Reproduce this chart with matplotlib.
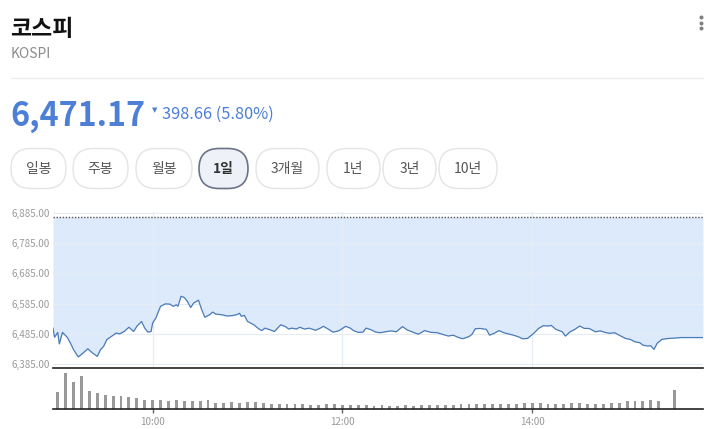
import numpy as np
import matplotlib
matplotlib.use("Agg")
import matplotlib.pyplot as plt
from matplotlib.patches import FancyBboxPatch

plt.rcParams['font.family'] = ['Noto Sans CJK KR', 'DejaVu Sans']

# ---------------- data ----------------
title = "코스피"
subtitle = "KOSPI"
last_price = 6471.17
change = 398.66
change_pct = 5.80
prev_close = 6869.83
periods = ["일봉", "주봉", "월봉", "1일", "3개월", "1년", "3년", "10년"]
selected_period = "1일"

# intraday price: minutes after 09:00 and index level
price_min = [-3, -2, 0, 1, 3, 6, 8, 10, 13, 16, 19, 22, 25, 27, 29, 31, 34, 37, 39, 42,
             45, 48, 50, 53, 55, 57, 59, 60, 62, 65, 68, 71, 73, 75, 76, 78, 80, 82, 84, 86,
             89, 91, 93, 96, 98, 100, 104, 107, 110, 113, 115, 116, 118, 120, 124, 127, 129, 131, 134, 137,
             139, 141, 144, 146, 148, 151, 153, 156, 159, 163, 166, 168, 171, 174, 176, 178, 182, 185, 187, 190,
             193, 195, 198, 201, 204, 207, 211, 214, 218, 221, 224, 228, 232, 236, 240, 243, 247, 250, 253, 256,
             260, 262, 264, 267, 271, 273, 276, 279, 282, 285, 288, 291, 294, 297, 301, 304, 307, 310, 312, 315,
             319, 321, 324, 327, 330, 333, 336, 340, 343, 346, 349, 352, 355, 359, 362, 365, 368, 370, 373, 375,
             377, 379, 382, 386, 390, 394, 408]
price_val = [6504, 6474, 6490, 6452, 6490, 6474, 6455, 6433, 6409, 6422, 6436, 6422, 6411, 6433, 6444, 6466, 6477, 6488, 6485, 6493,
             6507, 6493, 6510, 6526, 6504, 6491, 6493, 6521, 6537, 6576, 6584, 6583, 6576, 6581, 6576, 6609, 6605, 6592, 6572, 6587,
             6596, 6565, 6540, 6548, 6557, 6550, 6548, 6544, 6545, 6548, 6553, 6543, 6546, 6526, 6515, 6502, 6496, 6504, 6499, 6493,
             6504, 6515, 6509, 6501, 6504, 6501, 6507, 6501, 6504, 6497, 6504, 6510, 6501, 6491, 6493, 6496, 6510, 6504, 6496, 6490,
             6491, 6504, 6499, 6491, 6489, 6492, 6495, 6492, 6509, 6498, 6492, 6484, 6496, 6490, 6489, 6484, 6478, 6481, 6474, 6469,
             6476, 6484, 6502, 6503, 6500, 6481, 6487, 6496, 6489, 6485, 6481, 6476, 6469, 6470, 6487, 6503, 6512, 6511, 6513, 6500,
             6492, 6478, 6492, 6500, 6511, 6503, 6503, 6492, 6495, 6490, 6487, 6489, 6481, 6470, 6467, 6459, 6456, 6448, 6445, 6446,
             6434, 6454, 6467, 6470, 6471.17, 6473, 6473]

# 5-minute volume bars (09:00 .. 15:20) and closing auction (15:30), relative units
volume = [167, 363, 273, 330, 180, 163, 143, 133, 130, 117, 113, 93, 93, 93, 83, 90, 80, 80, 80, 93,
          63, 63, 70, 63, 70, 70, 60, 53, 53, 53, 47, 47, 43, 43, 47, 53, 40, 43, 43, 40,
          33, 43, 30, 33, 40, 33, 40, 40, 43, 43, 43, 50, 47, 53, 53, 50, 50, 47, 50, 57,
          60, 60, 47, 47, 53, 60, 57, 53, 53, 53, 60, 60, 77, 77, 77, 87, 80, 190]
volume_min = list(range(0, 381, 5)) + [390]

yticks = [6385, 6485, 6585, 6685, 6785, 6885]
xtick_labels = ["10:00", "12:00", "14:00"]

# ---------------- figure ----------------
W, H = 713, 429
fig = plt.figure(figsize=(W / 100, H / 100), dpi=100)
fig.patch.set_facecolor("white")


def px_rect(x0, y0, x1, y1):
    return [x0 / W, (H - y1) / H, (x1 - x0) / W, (y1 - y0) / H]


ov = fig.add_axes([0, 0, 1, 1])
ov.set_xlim(0, W)
ov.set_ylim(H, 0)
ov.axis("off")

blue = "#4c7fd5"
ov.text(10, 36.5, title, fontsize=16.5, fontweight="bold", color="#111111", va="baseline", ha="left")
ov.text(11, 57.5, subtitle, fontsize=10, color="#8c8c8c", va="baseline", ha="left")
ov.plot([11, 703], [77.5, 77.5], color="#ececec", lw=1)
ov.scatter([701, 701, 701], [17, 22.5, 28], s=3.5, color="#808080")

ov.text(10, 125.5, f"{last_price:,.2f}", fontsize=23.3, fontweight="bold", color=blue, va="baseline", ha="left")
ov.text(155, 110, "▼", fontsize=5, color=blue, va="center", ha="center", family="DejaVu Sans")
ov.text(162.5, 119, f"{change:,.2f} ({change_pct:.2f}%)", fontsize=11.8, color=blue, va="baseline", ha="left")

btn_x = [(11, 66), (73, 128), (136, 192), (199, 248), (256, 319), (327, 380), (383, 436), (439, 497)]
for (x0, x1), lab in zip(btn_x, periods):
    sel = lab == selected_period
    box = FancyBboxPatch((x0, 148.5), x1 - x0, 40, boxstyle="round,pad=0,rounding_size=20",
                         facecolor="#eef1f8" if sel else "white",
                         edgecolor="#6a7488" if sel else "#e4e4e4", lw=1.2 if sel else 1.0)
    ov.add_patch(box)
    ov.text((x0 + x1) / 2, 168.5, lab, fontsize=10, color="#333333" if sel else "#555555",
            fontweight="bold" if sel else "normal", ha="center", va="center")

# ---------------- price chart ----------------
ax = fig.add_axes(px_rect(53, 212.5, 703, 367))
ax.set_xlim(-3, 408)
ax.set_ylim(6376, 6885)
ax.fill_between(price_min, price_val, prev_close, color="#dceafb", lw=0, zorder=1)
ax.plot(price_min, price_val, color="#4a7bb8", lw=0.9, zorder=3)
ax.axhline(prev_close, color="#555555", lw=1.0, ls=(0, (1, 1.2)), zorder=4)
ax.set_yticks(yticks)
ax.set_yticklabels([f"{v:,.2f}" for v in yticks])
tick_pos = [(int(s[:2]) - 9) * 60 + int(s[3:]) for s in xtick_labels]
ax.set_xticks(tick_pos)
ax.tick_params(axis="x", length=0, labelbottom=False)
ax.tick_params(axis="y", length=0, pad=2.5, labelsize=7, labelcolor="#9a9a9a")
ax.grid(True, color="#e6ecf3", lw=0.8, zorder=0)
ax.axvline(tick_pos[1], color="#d9dee5", lw=0.8, zorder=0.5)
for s in ax.spines.values():
    s.set_visible(False)
ax.set_facecolor("none")

# ---------------- volume chart ----------------
vax = fig.add_axes(px_rect(53, 368, 703, 409))
vax.set_xlim(-3, 408)
vax.set_ylim(0, 410)
vax.bar(volume_min, volume, width=1.8, color="#999999", lw=0)
vax.set_yticks([])
vax.set_xticks(tick_pos)
vax.set_xticklabels(xtick_labels)
vax.tick_params(axis="x", length=3, width=1, color="#666666", pad=3, labelsize=7, labelcolor="#9a9a9a")
for k in ("left", "right"):
    vax.spines[k].set_visible(False)
for k in ("top", "bottom"):
    vax.spines[k].set_color("#222222")
    vax.spines[k].set_linewidth(1.2)
vax.set_facecolor("none")

fig.savefig("out.png", dpi=100, facecolor="white")
